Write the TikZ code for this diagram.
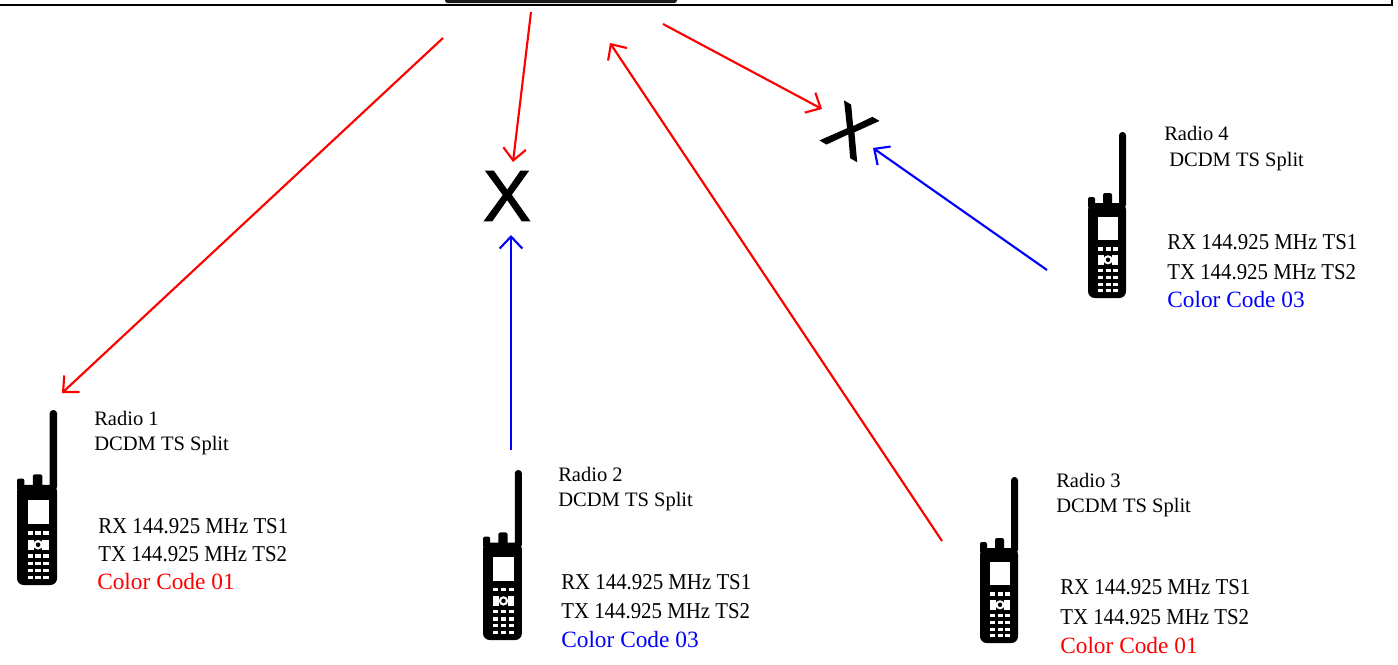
\documentclass[tikz,border=0pt]{standalone}
\usepackage{fontspec}
\setmainfont{Liberation Serif}
\newfontfamily\bigfont[FakeStretch=0.92]{Liberation Serif}
\newfontfamily\xfont[FakeBold=1.6]{Liberation Sans}
\usetikzlibrary{arrows.meta}
\definecolor{ired}{RGB}{255,0,0}
\definecolor{iblue}{RGB}{0,0,255}
\tikzset{
  phone/.pic={
    \fill[black, rounded corners=5] (0,-95) rectangle (38,0);
    \fill[black, rounded corners=1.5] (0,-101) rectangle (7,-90);
    \fill[black, rounded corners=1.5] (15,-105) rectangle (24,-90);
    \fill[black, rounded corners=2.5] (31,-166) rectangle (38,-90);
    \fill[white] (10,-81) rectangle (30,-58);
    \foreach \cx in {10,17.5,25} {
      \fill[white] (\cx,-51) rectangle ++(5,3.5);
      \foreach \ry in {-29,-22,-15.5,-9} {
        \fill[white] (\cx,\ry) rectangle ++(5,3);
      }
    }
    \fill[white] (10,-43) rectangle (16,-33.5);
    \fill[white] (24,-43) rectangle (30,-33.5);
    \fill[white] (20,-38.2) circle (4.6);
    \fill[black] (20,-38.2) circle (2.2);
  },
  redarrow/.style={draw=ired, line width=1.6pt, -{Straight Barb[length=9pt,width=17pt]}},
  bluearrow/.style={draw=iblue, line width=1.6pt, -{Straight Barb[length=9pt,width=17pt]}},
  lbl/.style={anchor=base west, inner sep=0pt, font=\fontsize{15.4}{18}\selectfont},
  big/.style={anchor=base west, inner sep=0pt, font=\bigfont\fontsize{17}{20}\selectfont},
  ccode/.style={anchor=base west, inner sep=0pt, font=\fontsize{17.5}{20}\selectfont},
  xmark/.style={inner sep=0pt, font=\xfont\fontsize{54}{60}\selectfont},
}
\begin{document}
\begin{tikzpicture}[x=0.75pt, y=-0.75pt]
\useasboundingbox (0,0) rectangle (1398,664);

% top frame remnants
\fill[black!90, rounded corners=2] (445,-6) rectangle (677,3);
\draw[black, line width=2.2pt] (0,5) -- (1392,5) -- (1392,0);

% phones
\pic[scale=1.054] (p1) at (17,585) {phone};
\pic[scale=1.024] (p2) at (483,640) {phone};
\pic (p3) at (980,643) {phone};
\pic (p4) at (1088,298) {phone};

% Radio 1
\node[lbl] (r1a) at (94,425) {Radio 1};
\node[lbl] (r1b) at (94,450) {DCDM TS Split};
\node[big] (r1c) at (98,533) {RX 144.925 MHz TS1};
\node[big] (r1d) at (98,561) {TX 144.925 MHz TS2};
\node[ccode, text=ired] (r1e) at (97,589) {Color Code 01};

% Radio 2
\node[lbl] (r2a) at (558,481) {Radio 2};
\node[lbl] (r2b) at (558,506) {DCDM TS Split};
\node[big] (r2c) at (561,589.5) {RX 144.925 MHz TS1};
\node[big] (r2d) at (561,618.5) {TX 144.925 MHz TS2};
\node[ccode, text=iblue] (r2e) at (561,647.5) {Color Code 03};

% Radio 3
\node[lbl] (r3a) at (1056,487) {Radio 3};
\node[lbl] (r3b) at (1056,512) {DCDM TS Split};
\node[big] (r3c) at (1060,594.5) {RX 144.925 MHz TS1};
\node[big] (r3d) at (1060,624.5) {TX 144.925 MHz TS2};
\node[ccode, text=ired] (r3e) at (1060,653.5) {Color Code 01};

% Radio 4
\node[lbl] (r4a) at (1164,140) {Radio 4};
\node[lbl] (r4b) at (1169,166) {DCDM TS Split};
\node[big] (r4c) at (1167,249.5) {RX 144.925 MHz TS1};
\node[big] (r4d) at (1167,279.5) {TX 144.925 MHz TS2};
\node[ccode, text=iblue] (r4e) at (1167,307.5) {Color Code 03};

% X marks
\node[xmark] (x1) at (507,196) {X};
\node[xmark, rotate=-30, font=\xfont\fontsize{50}{56}\selectfont] (x2) at (850,131) {X};

% connector end points
\coordinate (a1s) at (443,38);   \coordinate (a1e) at (62,393);
\coordinate (a2s) at (531,12);   \coordinate (a2e) at (513,162);
\coordinate (a3s) at (942,541);  \coordinate (a3e) at (610,43);
\coordinate (a4s) at (663,24);   \coordinate (a4e) at (822,109);
\coordinate (b1s) at (511,450);  \coordinate (b1e) at (511,235);
\coordinate (b2s) at (1047,270); \coordinate (b2e) at (873,148);

\draw[redarrow] (a1s) -- (a1e);
\draw[redarrow] (a2s) -- (a2e);
\draw[redarrow] (a3s) -- (a3e);
\draw[redarrow] (a4s) -- (a4e);
\draw[bluearrow] (b1s) -- (b1e);
\draw[bluearrow] (b2s) -- (b2e);
\end{tikzpicture}
\end{document}
